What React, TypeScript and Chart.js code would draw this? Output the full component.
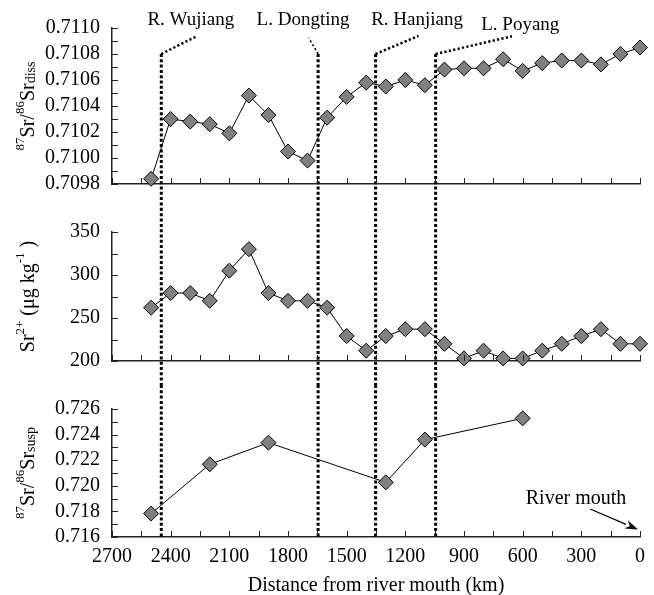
import React, { useEffect, useRef } from 'react';
import { Chart, registerables } from 'chart.js';

Chart.register(...registerables);

const FONT = '"Liberation Serif", "Times New Roman", serif';
const AXIS = '#222';

// ---------- data ----------
const distanceDiss = [2500, 2400, 2300, 2200, 2100, 2000, 1900, 1800, 1700, 1600, 1500, 1400, 1300, 1200, 1100, 1000, 900, 800, 700, 600, 500, 400, 300, 200, 100, 0];
const ratioDiss = [0.70984, 0.7103, 0.71028, 0.71026, 0.71019, 0.71048, 0.71033, 0.71005, 0.70998, 0.71031, 0.71047, 0.71058, 0.71055, 0.7106, 0.71056, 0.71068, 0.71069, 0.71069, 0.71076, 0.71067, 0.71073, 0.71075, 0.71075, 0.71072, 0.7108, 0.71085];
const srConc = [262, 279, 279, 270, 305, 330, 279, 270, 270, 262, 229, 212, 229, 237, 237, 220, 203, 212, 203, 203, 212, 220, 229, 237, 220, 220];
const distanceSusp = [2500, 2200, 1900, 1300, 1100, 600];
const ratioSusp = [0.71783, 0.72168, 0.72337, 0.72027, 0.72361, 0.72527];

const xTicks = [0, 150, 300, 450, 600, 750, 900, 1050, 1200, 1350, 1500, 1650, 1800, 1950, 2100, 2250, 2400, 2550, 2700];
const xTickLabels = ['2700', '2400', '2100', '1800', '1500', '1200', '900', '600', '300', '0'];
const dissTicks = [0.7098, 0.7099, 0.71, 0.7101, 0.7102, 0.7103, 0.7104, 0.7105, 0.7106, 0.7107, 0.7108, 0.7109, 0.711];
const dissTickLabels = ['0.7098', '0.7100', '0.7102', '0.7104', '0.7106', '0.7108', '0.7110'];
const concTicks = [200, 225, 250, 275, 300, 325, 350];
const concTickLabels = ['200', '250', '300', '350'];
const suspTicks = [0.716, 0.717, 0.718, 0.719, 0.72, 0.721, 0.722, 0.723, 0.724, 0.725, 0.726];
const suspTickLabels = ['0.716', '0.718', '0.720', '0.722', '0.724', '0.726'];

// tributary annotations
const tributaryNames = ['R. Wujiang', 'L. Dongting', 'R. Hanjiang', 'L. Poyang'];
const tributaryKm = [2448, 1646, 1352, 1045];
const tributaryLabelKm = [2297, 1723, 1140, 612];
const tributaryLabelValue = [0.711023, 0.711023, 0.711023, 0.710985];
const leaderStartValue = 0.7108;
const leaderEndKm = [2272, 1694, 1133, 655];
const leaderEndValue = [0.710932, 0.710924, 0.710939, 0.710936];
const leaderWidth = [2.5, 1.5, 2.5, 2.5];

// river mouth annotation (bottom panel)
const mouthText = 'River mouth';
const mouthTextKm = 327;
const mouthTextValue = 0.718555;
const mouthArrowFrom = { km: 255, v: 0.71819 };
const mouthArrowTo = { km: 10, v: 0.716584 };

type Seg = { t: string; s: number; dy: number };

const titleDiss: Seg[] = [
  { t: '87', s: 13, dy: -10 },
  { t: 'Sr/', s: 20, dy: 0 },
  { t: '86', s: 13, dy: -10 },
  { t: 'Sr', s: 20, dy: 0 },
  { t: 'diss', s: 14, dy: 1 },
];
const titleConc: Seg[] = [
  { t: 'Sr', s: 20, dy: 0 },
  { t: '2+', s: 13, dy: -10 },
  { t: ' (\u03bcg kg', s: 20, dy: 0 },
  { t: '-1', s: 13, dy: -10 },
  { t: ' )', s: 20, dy: 0 },
];
const titleSusp: Seg[] = [
  { t: '87', s: 13, dy: -10 },
  { t: 'Sr/', s: 20, dy: 0 },
  { t: '86', s: 13, dy: -10 },
  { t: 'Sr', s: 20, dy: 0 },
  { t: 'susp', s: 14, dy: 1 },
];

interface Panel {
  key: 'diss' | 'conc' | 'susp';
  top: number;
  height: number;
  areaTop: number;
  areaBottom: number;
  xs: number[];
  ys: number[];
  yMin: number;
  yMax: number;
  yTicks: number[];
  yLabels: string[];
  digits: number;
  showX: boolean;
  title: Seg[];
}

const panels: Panel[] = [
  { key: 'diss', top: 0, height: 208, areaTop: 28, areaBottom: 186, xs: distanceDiss, ys: ratioDiss, yMin: 0.7098, yMax: 0.711, yTicks: dissTicks, yLabels: dissTickLabels, digits: 4, showX: false, title: titleDiss },
  { key: 'conc', top: 208, height: 177, areaTop: 23, areaBottom: 155, xs: distanceDiss, ys: srConc, yMin: 200, yMax: 350, yTicks: concTicks, yLabels: concTickLabels, digits: 0, showX: false, title: titleConc },
  { key: 'susp', top: 385, height: 220, areaTop: 15, areaBottom: 152, xs: distanceSusp, ys: ratioSusp, yMin: 0.716, yMax: 0.726, yTicks: suspTicks, yLabels: suspTickLabels, digits: 3, showX: true, title: titleSusp },
];

function drawRotated(ctx: CanvasRenderingContext2D, segs: Seg[], bx: number, cy: number) {
  ctx.save();
  ctx.translate(bx, cy);
  ctx.rotate(-Math.PI / 2);
  ctx.textBaseline = 'alphabetic';
  ctx.textAlign = 'left';
  ctx.fillStyle = '#000';
  let total = 0;
  for (const sg of segs) {
    ctx.font = `${sg.s}px ${FONT}`;
    total += ctx.measureText(sg.t).width;
  }
  let x = -total / 2;
  for (const sg of segs) {
    ctx.font = `${sg.s}px ${FONT}`;
    ctx.fillText(sg.t, x, sg.dy);
    x += ctx.measureText(sg.t).width;
  }
  ctx.restore();
}

function makeDecor(p: Panel) {
  return {
    id: 'decor_' + p.key,
    beforeDatasetsDraw(chart: any) {
      const { ctx, scales, chartArea, height } = chart;
      const xs = scales.x;
      const ys = scales.y;
      ctx.save();
      ctx.strokeStyle = '#000';
      ctx.lineWidth = 3;
      ctx.setLineDash([3, 2.3]);
      for (const km of tributaryKm) {
        const px = xs.getPixelForValue(km);
        const y0 = p.key === 'diss' ? ys.getPixelForValue(leaderStartValue) : 0;
        const y1 = p.key === 'susp' ? chartArea.bottom : height;
        ctx.beginPath();
        ctx.moveTo(px, y0);
        ctx.lineTo(px, y1);
        ctx.stroke();
      }
      ctx.restore();
    },
    afterDraw(chart: any) {
      const { ctx, scales, chartArea } = chart;
      const xs = scales.x;
      const ys = scales.y;
      ctx.save();
      // inward tick marks
      ctx.strokeStyle = AXIS;
      ctx.lineWidth = 1;
      ctx.setLineDash([]);
      ctx.beginPath();
      for (const t of xs.ticks) {
        const px = Math.round(xs.getPixelForValue(t.value)) + 0.5;
        ctx.moveTo(px, chartArea.bottom);
        ctx.lineTo(px, chartArea.bottom - 6);
      }
      for (const t of ys.ticks) {
        const py = Math.round(ys.getPixelForValue(t.value)) + 0.5;
        ctx.moveTo(chartArea.left, py);
        ctx.lineTo(chartArea.left + 6, py);
      }
      ctx.stroke();

      // axis title
      drawRotated(ctx, p.title, 34, (chartArea.top + chartArea.bottom) / 2);

      if (p.key === 'diss') {
        ctx.strokeStyle = '#000';
        for (let i = 0; i < tributaryNames.length; i++) {
          ctx.lineWidth = leaderWidth[i];
          ctx.setLineDash([2.2, 2.3]);
          ctx.beginPath();
          ctx.moveTo(xs.getPixelForValue(tributaryKm[i]), ys.getPixelForValue(leaderStartValue));
          ctx.lineTo(xs.getPixelForValue(leaderEndKm[i]), ys.getPixelForValue(leaderEndValue[i]));
          ctx.stroke();
        }
        ctx.setLineDash([]);
        ctx.fillStyle = '#000';
        ctx.font = `19px ${FONT}`;
        ctx.textAlign = 'center';
        ctx.textBaseline = 'alphabetic';
        for (let i = 0; i < tributaryNames.length; i++) {
          ctx.fillText(tributaryNames[i], xs.getPixelForValue(tributaryLabelKm[i]), ys.getPixelForValue(tributaryLabelValue[i]));
        }
      }

      if (p.key === 'susp') {
        ctx.fillStyle = '#000';
        ctx.font = `20px ${FONT}`;
        ctx.textAlign = 'center';
        ctx.textBaseline = 'alphabetic';
        ctx.fillText(mouthText, xs.getPixelForValue(mouthTextKm), ys.getPixelForValue(mouthTextValue));
        const x0 = xs.getPixelForValue(mouthArrowFrom.km);
        const y0 = ys.getPixelForValue(mouthArrowFrom.v);
        const x1 = xs.getPixelForValue(mouthArrowTo.km);
        const y1 = ys.getPixelForValue(mouthArrowTo.v);
        const ang = Math.atan2(y1 - y0, x1 - x0);
        const L = 13;
        const W = 4.5;
        const bx = x1 - L * Math.cos(ang);
        const by = y1 - L * Math.sin(ang);
        ctx.strokeStyle = '#000';
        ctx.lineWidth = 1.2;
        ctx.beginPath();
        ctx.moveTo(x0, y0);
        ctx.lineTo(bx, by);
        ctx.stroke();
        ctx.beginPath();
        ctx.moveTo(x1, y1);
        ctx.lineTo(bx - W * Math.sin(ang), by + W * Math.cos(ang));
        ctx.lineTo(x1 - (L - 4) * Math.cos(ang), y1 - (L - 4) * Math.sin(ang));
        ctx.lineTo(bx + W * Math.sin(ang), by - W * Math.cos(ang));
        ctx.closePath();
        ctx.fill();
      }
      ctx.restore();
    },
  };
}

function buildConfig(p: Panel): any {
  return {
    type: 'scatter',
    data: {
      datasets: [
        {
          data: p.xs.map((x, i) => ({ x, y: p.ys[i] })),
          showLine: true,
          borderColor: '#000',
          borderWidth: 1,
          pointStyle: 'rectRot',
          pointRadius: 7.5,
          pointHoverRadius: 7.5,
          pointBackgroundColor: '#808080',
          pointBorderColor: '#000',
          pointBorderWidth: 1,
          clip: false,
        },
      ],
    },
    options: {
      responsive: false,
      animation: false,
      events: [],
      layout: { padding: { top: p.areaTop, right: 14, left: 0, bottom: 0 } },
      plugins: {
        legend: { display: false },
        tooltip: { enabled: false },
        title: { display: false },
      },
      scales: {
        x: {
          type: 'linear',
          reverse: true,
          min: 0,
          max: 2700,
          grid: { display: false, drawTicks: false },
          border: { display: true, color: AXIS, width: 1.5 },
          afterBuildTicks: (s: any) => {
            s.ticks = xTicks.map((v) => ({ value: v }));
          },
          ticks: {
            display: p.showX,
            autoSkip: false,
            maxRotation: 0,
            padding: 8,
            color: '#000',
            font: { family: FONT, size: 20 },
            callback: (v: number) => (xTickLabels.includes(String(v)) ? String(v) : ''),
          },
          title: {
            display: p.showX,
            text: 'Distance from river mouth (km)',
            color: '#000',
            font: { family: FONT, size: 20 },
            padding: { top: 0, bottom: 7 },
          },
          afterFit: (s: any) => {
            s.height = p.height - p.areaBottom;
          },
        },
        y: {
          type: 'linear',
          min: p.yMin,
          max: p.yMax,
          grid: { display: false, drawTicks: false },
          border: { display: true, color: AXIS, width: 1.5 },
          afterBuildTicks: (s: any) => {
            s.ticks = p.yTicks.map((v) => ({ value: v }));
          },
          ticks: {
            autoSkip: false,
            padding: 12,
            color: '#000',
            font: { family: FONT, size: 20 },
            callback: (v: number) => {
              const s = Number(v).toFixed(p.digits);
              return p.yLabels.includes(s) ? s : '';
            },
          },
          afterFit: (s: any) => {
            s.width = 112;
          },
        },
      },
    },
    plugins: [makeDecor(p)],
  };
}

export default function App() {
  const refA = useRef<HTMLCanvasElement>(null);
  const refB = useRef<HTMLCanvasElement>(null);
  const refC = useRef<HTMLCanvasElement>(null);

  useEffect(() => {
    Chart.defaults.font.family = FONT;
    Chart.defaults.color = '#000';
    const refs = [refA, refB, refC];
    const charts = panels.map((p, i) => new Chart(refs[i].current as HTMLCanvasElement, buildConfig(p)));
    return () => charts.forEach((c) => c.destroy());
  }, []);

  const refs = [refA, refB, refC];
  return (
    <div style={{ position: 'absolute', left: 0, top: 0, width: 654, height: 595, overflow: 'hidden', background: '#fff' }}>
      {panels.map((p, i) => (
        <canvas
          key={p.key}
          ref={refs[i]}
          width={654}
          height={p.height}
          style={{ position: 'absolute', left: 0, top: p.top, width: 654, height: p.height }}
        />
      ))}
    </div>
  );
}
